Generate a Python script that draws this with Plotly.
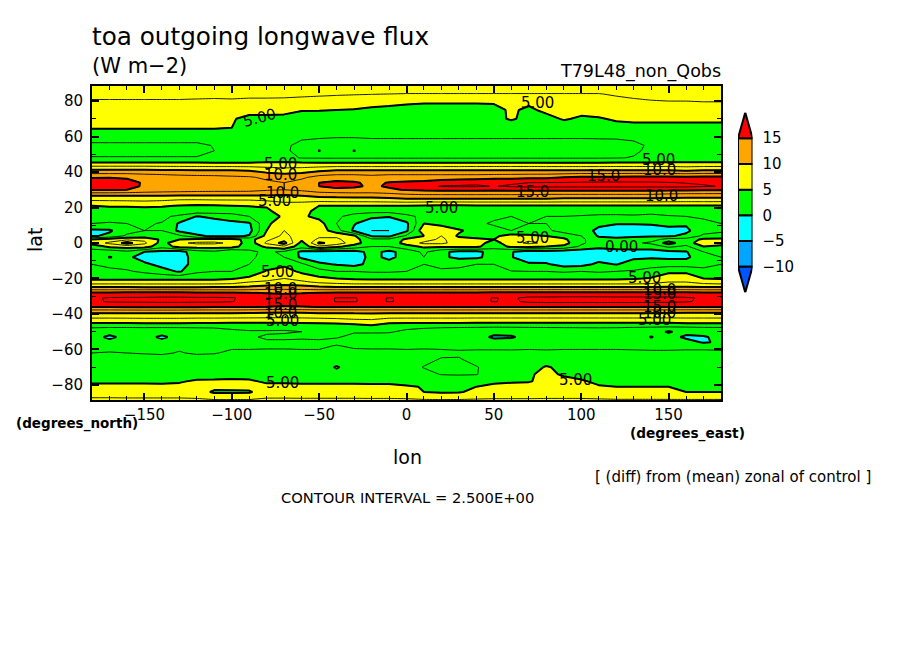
import plotly.graph_objects as go

lons = list(range(-180, 190, 10))
lats = [89,84,80,75,70,65,60,55,52,48,45,41,37,34,32,30,27,25,21,18,15,11,7,4,2,0,-2,-5,-8,-12,-16,-20,-22,-25,-28,-31,-33,-36,-39,-45,-47,-50,-53,-56,-58,-62,-66,-70,-74,-78,-81,-84,-89]
flux = [
[9,9,9,9,9,9,9,9,9,9, 9,9,9,9.5,9.5,9.5,9.5,9.5,9.5, 9.5,9.5,9.5,9.5,9.5,9.5,9.5,9.5,9.5, 9.5,9.5,9,9,9,9,9,9,9],
[8.2,8.2,8.2,8.2,8.2,8.2,8.2,8.2,8.2,8.2, 8.2,8.1,8,7.9,7.8,7.7,7.6,7.5,7.4, 7.4,7.4,7.4,7.4,7.4,7.4,7.4,7.4,7.4, 7.4,7.4,7.8,8,8.2,8.3,8.4,8.5,8.5],
[7.3,7.3,7.3,7.3,7.3,7.3,7.2,7.1,7.2,7, 7,7,6.8,6.6,6.3,6,5.7,5.5,5.3, 5.3,5.3,5.3,5.3,5.3,5.8,5.5,5.5,5.7, 6,6.2,6.8,7.2,7.4,7.5,7.5,7.6,7.6],
[6.5,6.5,6.5,6.5,6.5,6.5,6.5,6.5,6.2,5.8, 5.8,5.5,5.1,5.1,5,4.9,4.7,4.6,4.5, 4.2,4.2,4.2,4.2,4.4,5.3,4.6,5.5,5.5, 5.6,6,6.2,6.3,6.4,6.4,6.4,6.4,6.4],
[5.8,5.8,5.8,5.8,5.8,5.7,5.7,5.5,5.2,4.4, 4.4,4.5,4.2,4,3.9,3.8,3.8,3.7,3.7, 3.6,3.6,3.6,3.6,4.5,5.2,4.5,4.3,5.2, 4.7,4.8,5.3,5.5,5.5,5.5,5.5,5.5,5.5],
[5.2,5.2,5.2,5.2,5.2,5.2,5.2,5.2,5,3.9, 3.8,3.7,3.6,3.5,3.5,3.5,3.4,3.4,3.4, 3.4,3.4,3.4,3.4,3.6,4,4,4.5,3.9, 3.9,4,4.2,4.3,4.3,4.3,4.3,4.3,4.3],
[3.4,3.4,3.4,3.4,3.4,3.4,3.4,3.4,3.3,3.2, 3,2.9,2.7,2.7,2.6,2.6,2.7,2.7,2.7, 2.7,2.7,2.7,2.7,2.7,2.7,2.7,2.7,2.7, 2.7,2.7,2.7,2.8,2.9,2.9,2.9,2.9,2.9],
[2.1,2.1,2.1,2.1,2.1,2.1,2.1,2.6,2.9,2.9, 2.8,2.7,2.2,1.8,1.8,1.8,1.8,1.8,1.8, 1.8,1.8,1.8,1.8,1.8,1.8,1.8,1.8,1.8, 1.8,1.9,2,2.2,2.7,2.8,2.8,2.8,2.8],
[2,2,2,2,2,2,2,2.5,2.9,2.9, 2.8,2.7,2.1,-0.1,1.5,-0.1,1.5,1.5,1.5, 1.5,1.5,1.5,1.5,1.5,1.5,1.5,1.5,1.5, 1.6,1.7,1.8,2.2,2.9,3,3,3,3],
[2.6,2.6,2.6,2.6,2.6,2.6,2.6,2.8,3,3, 3,3,2.4,2.3,2.3,2.3,2.3,2.3,2.3, 2.3,2.3,2.3,2.3,2.3,2.3,2.3,2.3,2.3, 2.3,2.3,2.4,2.6,3.2,3.3,3.3,3.3,3.3],
[5.3,5.3,5.3,5.3,5.3,5.3,5.3,5.2,5.2,5.2, 5.4,5.5,5.3,5.2,5.2,5.2,5.2,5.2,5.2, 5.2,5.2,5.2,5.3,5.3,5.3,5.3,5.2,5.2, 5.2,5.2,5.3,5.3,5.3,5.4,5.3,5.3,5.3],
[10.4,10.4,10.4,10.4,10.2,10.1,10,10,10,9.8, 9,8.5,8.8,9.5,10,10,10,10,10, 10,10,10,10,10,10,10,10,10, 10,10,10,10,10,10,9.6,10,10],
[14.8,14.9,14.8,14.2,14,13.6,13.4,13.3,13,12.8, 12,11.5,12,13.5,14,14,13.5,14,14, 14,14,14,14,14.2,14.3,14.5,14.5,15, 15.5,15.5,15.5,15.6,15.6,15.6,15.6,15.6,15.6],
[16.5,16.5,15.6,14.8,14.5,14.5,14.5,14.2,14,13.8, 13,12.5,13.5,15,15.5,15.2,14.6,15.1,15.3, 15.5,16,16.5,17,17.2,17.2,17.5,17.6,17.6, 17.7,17.8,17.8,17.8,17.8,17.6,17.4,17.2,17.2],
[16,16,15.5,14.8,14.5,14.5,14.5,14.3,14.1,14, 13,12.5,13.5,15,15.8,15.4,14.6,15.3,15.8, 16.5,17.7,17.8,17.8,17.4,17.8,18,18,18, 18,18,18,18,18,18,18,17.7,17.4],
[15.3,15.3,15,14.4,14,13.8,13.6,13.5,13.5,13.4, 12.8,12.5,13,14,14.3,14.3,14.2,14.6,15.2, 15.5,15.6,15.6,15.6,15.5,15.6,15.6,15.6,15.6, 15.6,15.6,15.6,15.6,15.6,15.6,15.5,15.4,15.3],
[10.4,10.4,10.4,10.3,10.3,10.2,10.2,10.2,10.2,10.2, 10.2,10,10.2,10.8,11,11.2,11.2,11.5,12, 12.2,12.2,12.2,12.2,12.2,12.2,12.2,12,12, 12,12,12,12,12,11.6,11.4,11.4,11.4],
[8.4,8.4,8.5,8.6,8.4,8,8,8.1,8.1,8.1, 8.5,8.8,9,9.2,9.4,9.4,9.5,9.7,10, 10,10,10,10,10,10,10,10,9.8, 9.8,9.8,9.8,9.8,9.8,9.6,9.5,9.5,9.5],
[5,5.2,5.2,5.4,5.2,4.9,4.7,4.8,5,5.1, 5.2,6.3,6,5,5,5,5,5,5, 4.8,4.7,4.7,4.8,4.8,4.8,4.8,4.8,4.8, 4.8,4.8,4.8,4.8,4.8,4.8,4.8,4.8,4.8],
[4,4,4,4,4,4.2,4,4,4,4.2, 4.6,6,5.8,4.3,3.8,3.6,3.4,3.4,3.5, 3.6,3.6,3.5,3.5,3.4,3.4,3.4,3.5,3.6, 3.6,3.6,3.5,3.4,3.2,3.6,3.6,3.5,3.5],
[3,3,3,3,3,2,-0.1,0.5,1,2.5, 3.5,5.5,5.5,4.2,3,1.5,0.5,0.2,2, 3,3,3,3,2.8,2.5,3,2.5,2.5, 2.3,2,2,2.2,2,2.3,2.5,2.8,3],
[2.5,2.4,2.5,2.7,2.4,-0.3,-1.2,-1,-0.5,-0.3, 4.5,6.5,7,6,2.5,0.2,-1.5,-2,-0.5, 5,4.5,2.5,2.8,2.3,2.2,2.5,2.5,2, 1,0.5,0.2,0.2,0.2,0.4,0.3,2,2.5],
[-0.5,-0.3,1.5,2.5,2.5,-0.6,-1.5,-1.5,-1.5,-0.9, 5,7.5,7,6.5,3.5,-0.5,-2.5,-2.5,-0.5, 7,6,5.5,3.5,3,2.5,3,3,1.5, 1,-0.5,-1.5,-1.5,-1,-0.5,-0.5,1.5,2],
[-0.3,0.5,3,3.5,3,3,0.5,-0.5,-0.5,0.2, 6,8,6.5,7,7,5.5,-0.2,-0.5,3, 5,7.5,4.5,4,4.5,6,5.5,5,4, 2.5,-0.3,-0.5,-0.5,-0.3,-0.3,0.5,3,3.5],
[5,6,7,7,4.5,5,5.5,6,6,4, 7,9,5.5,8,8,6,3,3,5.5, 6.5,8,6,5.5,5,6,7,6,5.5, 3,1,0.5,1,1.5,3.5,3.5,5.5,5.5],
[6,8,11,8,4,7,8,8,7,3.5, 8,11,4,10.5,9,6,3.5,3.5,6, 8,8,6.5,6,4,6.5,8,7,6, 3,1,1,2,3,6,3.5,7,6],
[3.5,5.5,6,6,3.5,6,6,6,6,3.5, 5.5,7,3.5,7,5.5,4,2.5,2.5,4, 5.5,5.5,5.5,5.5,3.5,5.5,5.5,5,4.5, 2,0.5,0.5,1,1,3,2,5,4.5],
[1.5,1,2,0,-0.8,-1,1.5,2,0,2, 3,2,-0.5,-1,-1,-1,0.8,-0.6,1, 3,0.5,-0.6,-0.6,1,0.2,-1.5,-1,-1.5, -1.5,-1,-0.5,-0.8,-0.8,-0.5,-0.2,2.5,3],
[1.5,-0.1,0.6,-1.2,-1.5,-1.5,1.5,2,1,2.2, 3,2.5,-0.5,-1.5,-1.5,-1.5,0.8,-0.6,1, 2.5,0.5,-0.6,-0.5,1,0.2,-2,-1.5,-1.5, -2,-1,-0.3,-0.3,-0.3,-0.5,-0.5,1.5,2.5],
[2.5,2,1.5,0.5,-0.8,-1.5,1.5,2,2,2.5, 4,4.5,3,0.5,-0.2,-0.8,0.8,1,2, 2.5,2,2.2,2.5,2.5,0.8,0.5,0.3,-1, -0.8,0.5,-0.1,0.8,1.5,1.5,1.5,2,2.5],
[3,3,2.8,2,1,-0.3,2,2.5,2.5,3.5, 5.2,6,4.5,3.5,2.5,2.5,2.2,2.2,2.5, 2.8,2.8,2.8,2.8,2.8,2.6,2.5,2.5,2.2, 2.5,2.2,2.5,2.8,3.5,4.5,4.5,3,3],
[4.5,4.5,4.5,4.5,4.5,4.5,4.5,4.5,4.8,5.5, 6.5,7.5,6.5,5.5,5,4.7,4.6,4.6,4.6, 4.6,4.6,4.6,4.6,4.6,4.6,4.6,4.6,4.6, 4.6,4.6,4.6,4.8,5.2,6.5,6.5,5,4.8],
[6,6,6,6,6,6,6,6,6.3,7.5, 8,8.5,8,7,6.5,6,6,6,6, 6,6,6,6,6,6,6,6,6, 6,6,6,6,6.4,7.5,7.5,6.4,6],
[10.2,10.2,10.2,10.1,10.1,10.1,10.1,10.2,10.2,10.5, 11,11.2,11,10.5,10.3,10.3,10.3,10.2,10.2, 10.2,10.2,10.2,10.2,10.2,10.2,10.2,10.2,10.2, 10.2,10.2,10.2,10.2,10.2,10.3,10.3,10.2,10.2],
[15.2,15.2,15.3,15.3,15.4,15.3,15.2,15.2,15.1,15, 14.8,14.6,14.8,15,15.2,15.2,15.2,15.2,15.2, 15.2,15.2,15.2,15.2,15.3,15.3,15.3,15.4,15.4, 15.4,15.4,15.4,15.4,15.4,15.4,15.3,15.2,15.2],
[17.2,17.7,17.8,17.8,17.9,17.9,17.8,17.8,17.7,16.8, 16.5,16.3,16.4,16.8,17.6,17.6,17,17.6,17.2, 17,17,17,17,17.6,17.2,18,18,18.1, 18.1,18.1,18,18,18,18,17.8,17.2,17],
[17.1,17.7,17.8,17.8,17.9,17.9,17.8,17.8,17.6,16.7, 16.4,16.2,16.3,16.7,17.6,17.6,17,17.6,17.2, 17,17,17,17,17.6,17.1,17.9,18,18, 18,18,18,18,18,17.9,17.7,17.1,17],
[15.2,15.2,15.3,15.4,15.4,15.4,15.3,15.2,15.2,15.1, 15,14.8,14.9,15.1,15.2,15.2,15.2,15.2,15.2, 15.2,15.2,15.2,15.2,15.2,15.2,15.2,15.2,15.2, 15.2,15.2,15.2,15.2,15.2,15.2,15.1,15.1,15.1],
[10.5,10.5,10.6,10.6,10.6,10.6,10.5,10.5,10.5,10.4, 10.3,10.2,10.3,10.5,10.5,10.5,10.5,10.5,10.5, 10.5,10.5,10.5,10.5,10.5,10.5,10.5,10.5,10.5, 10.5,10.5,10.5,10.5,10.5,10.4,10.3,10.3,10.3],
[5.1,5.1,5.1,5.2,5.2,5.2,5.1,5.1,5,5, 5,5,5.1,5.2,5.5,6,6.2,5.2,5.1, 5.1,5.1,5.1,5,5,5,5,5,5, 5,5,5,5,5,5,5.2,5.2,5.2],
[2.9,2.9,2.9,2.9,2.9,2.9,2.9,2.9,2.9,2.9, 2.9,2.8,2.9,2.9,3.2,3.6,4.5,3.2,2.8, 2.8,2.8,2.8,2.8,2.8,2.8,2.8,2.8,2.8, 2.8,2.8,2.8,2.8,2.8,2.8,2.8,2.8,2.8],
[1.4,1,1,1.2,1.1,1.2,1.4,1.6,2.2,2.4, 2.4,2.4,2.5,2.6,2.8,2.6,2.6,2.6,2.3, 2,1.6,1.4,1.2,0.8,1,1.2,1.4,1.5, 1.6,1.7,1.6,1.2,0.8,-0.2,0.7,1.2,1.3],
[1,-0.5,0.8,1,-0.5,1,1.2,1.6,2.2,2.4, 2.6,2.7,2.7,2.8,2.6,2.2,2.2,2.1,1.9, 1.6,1.4,1.3,1,-0.4,-0.3,1,1.3,1.4, 1.5,1.6,1.5,1.2,-0.1,0.8,-0.4,-0.3,0.8],
[1.2,0.8,1.2,1.4,0.9,1.4,1.6,2,2.3,2.4, 2.4,2.3,2.2,2.2,2.1,2.2,1.9,1.9,1.8, 1.6,1.5,1.4,1.3,1,1.2,1.4,1.6,1.6, 1.7,1.7,1.6,1.4,1.2,1.4,0.8,-0.2,0.3],
[2,1.9,2,2,2.1,2.2,2.2,2.2,2.2,2.2, 2.2,2.2,2.2,2.2,2.6,2.2,2.2,2.2,2.2, 2.2,2.1,2,2,2,2.1,2.1,2.1,2.1, 2.1,2.1,2.1,2,2,2,2,2,2],
[2.5,2.6,2.5,2.4,2.3,2.6,2.3,2.4,2.8,2.8, 2.9,2.9,2.8,2.8,2.9,3,2.9,2.9,2.8, 2.9,2.9,2.8,2.9,2.9,2.8,2.9,2.8,2.9, 2.9,2.9,2.9,2.9,2.8,2.8,2.9,2.9,2.8],
[3.2,3.2,3.2,3.2,3.2,3.2,3.3,3.3,3.3,3.3, 3.3,3.3,3.3,3.3,3.3,3.3,3.3,3.3,3.3, 3,2.3,2.3,3,3.3,3.3,3.4,3.5,3.5, 3.5,3.5,3.5,3.5,3.5,3.5,3.5,3.5,3.5],
[3.2,3.2,3.2,3.2,3.2,3.3,3.3,3.3,3.2,3.3, 3.3,3.4,3.4,3.4,5.3,3.4,3.4,3.4,3.4, 2.4,2.2,2.2,2.4,3.2,3.3,3.6,5.3,4.2, 3.6,3.5,3.5,3.5,3.5,3.5,3.5,3.5,3.5],
[3.8,3.8,3.8,3.8,3.8,3.9,4,4.2,4.2,4.2, 4,4,4,3.9,3.9,3.9,3.9,3.9,3.8, 3.1,2.4,2.3,2.4,3.6,3.8,4.8,5.4,4.8, 4.2,4,3.9,3.9,3.9,3.9,3.9,3.9,3.9],
[4.6,4.6,4.6,4.6,4.6,4.8,5.3,5.3,5.4,5.3, 4.7,4.7,4.7,4.7,4.7,4.7,4.6,4.6,4.3, 4,4,4,4.1,4.6,4.8,4.9,5.4,5.5, 5.3,4.5,4.3,4.3,4.3,4.3,4.3,4.3,4.3],
[5.6,5.6,5.6,5.6,5.5,5.5,5.6,5.7,5.8,5.8, 5.5,5.5,5.4,5.4,5.4,5.4,5.4,5.4,5.2, 4.9,4.8,4.8,5,5.5,5.6,5.6,5.8,6, 5.9,5.2,5,5,5,5,5,5,5],
[6.6,6.6,6.5,6.5,6.5,6.5,6.2,4.6,4.6,4.7, 6.4,6.4,6.3,6.3,6.3,6.3,6.2,6.2,6, 5,4.7,4.8,5.6,6,6,6,6.2,6.2, 6.2,5.8,5.2,5.2,5.2,5.1,5,5,5],
[8,8,8,8,8,8,8,8,8,8, 8,8,8,8,8,8,8,8,8, 8,8,8,8,8,8,8,8,8, 8,8,8,8,8,8,8,8,8],
]

levels = [-10, -5, 0, 5, 10, 15]
colors = ["#0055ff", "#00a5ff", "#00ffff", "#00ff00", "#ffff00", "#ffa500", "#ff0000"]
zlo, zhi = -15, 20
n = len(colors)
scale = []
for i, c in enumerate(colors):
    scale += [[i / n, c], [(i + 1) / n, c]]
black = [[0, "#000"], [1, "#000"]]
FONT = "DejaVu Sans"

fig = go.Figure()
fig.add_trace(go.Contour(x=lons, y=lats, z=flux, zmin=zlo, zmax=zhi, colorscale=scale, showscale=False,
                         autocontour=False, contours=dict(start=-10, end=15, size=5, coloring="fill", showlines=False),
                         line=dict(width=0), hoverinfo="skip"))
fig.add_trace(go.Contour(x=lons, y=lats, z=flux, colorscale=black, showscale=False, autocontour=False,
                         contours=dict(start=-10, end=17.5, size=2.5, coloring="lines"),
                         line=dict(width=0.9, color="#000", smoothing=0), hoverinfo="skip"))
fig.add_trace(go.Contour(x=lons, y=lats, z=flux, colorscale=black, showscale=False, autocontour=False,
                         contours=dict(start=-10, end=15, size=5, coloring="lines"),
                         line=dict(width=2, color="#000", smoothing=0), hoverinfo="skip"))

# colour key on its own small axes
for lo, hi, c in zip(levels[:-1], levels[1:], colors[1:-1]):
    fig.add_trace(go.Bar(x=[0.5], y=[hi - lo], base=[lo], width=[1], marker=dict(color=c, line=dict(color="#000", width=2)),
                         xaxis="x2", yaxis="y2", showlegend=False, hoverinfo="skip"))
fig.add_trace(go.Scatter(x=[0, 0.5, 1, 0], y=[15, 20, 15, 15], fill="toself", fillcolor=colors[-1], mode="lines",
                         line=dict(color="#000", width=2), xaxis="x2", yaxis="y2", showlegend=False, hoverinfo="skip"))
fig.add_trace(go.Scatter(x=[0, 0.5, 1, 0], y=[-10, -15, -10, -10], fill="toself", fillcolor=colors[0], mode="lines",
                         line=dict(color="#000", width=2), xaxis="x2", yaxis="y2", showlegend=False, hoverinfo="skip"))

W, H = 904, 654
tick_font = dict(family=FONT, size=15, color="#000")
fig.update_layout(
    width=W, height=H, margin=dict(l=0, r=0, t=0, b=0), paper_bgcolor="#fff", plot_bgcolor="#fff",
    showlegend=False, barmode="overlay", font=dict(family=FONT, color="#000"),
    xaxis=dict(domain=[92 / W, 721 / W], range=[-180, 180], tickvals=[-150, -100, -50, 0, 50, 100, 150],
               ticks="inside", ticklen=7, tickwidth=2, tickcolor="#000", showline=True, linecolor="#000", linewidth=2,
               mirror="allticks", showgrid=False, zeroline=False, tickfont=tick_font,
               minor=dict(dtick=10, ticks="inside", ticklen=4, tickwidth=1, tickcolor="#000")),
    yaxis=dict(domain=[1 - 400 / H, 1 - 86 / H], range=[-88.5, 88.5], tickvals=[-80, -60, -40, -20, 0, 20, 40, 60, 80],
               ticks="inside", ticklen=7, tickwidth=2, tickcolor="#000", showline=True, linecolor="#000", linewidth=2,
               mirror="allticks", showgrid=False, zeroline=False, tickfont=tick_font, ticklabelstandoff=4,
               minor=dict(dtick=10, ticks="inside", ticklen=4, tickwidth=1, tickcolor="#000")),
    xaxis2=dict(domain=[738 / W, 752.5 / W], range=[0, 1], anchor="y2", visible=False, fixedrange=True),
    yaxis2=dict(domain=[1 - 292.5 / H, 1 - 112.5 / H], range=[zlo, zhi], anchor="x2", side="right", tickvals=levels,
                ticks="", showgrid=False, zeroline=False, showline=False, tickfont=tick_font, ticklabelstandoff=9),
)

def note(text, px, py, size, xanchor="left", angle=0, weight=None):
    fig.add_annotation(text=text, x=px / W, y=1 - py / H, xref="paper", yref="paper", showarrow=False,
                       xanchor=xanchor, yanchor="middle", textangle=angle, font=dict(family=FONT, size=size, color="#000", weight=weight),
                       borderpad=0, borderwidth=0)

note("toa outgoing longwave flux", 92, 37, 24.7)
note("(W m\u22122)", 92, 66, 21)
note("T79L48_non_Qobs", 721, 71, 17.5, xanchor="right")
note("lat", 35, 240, 19, xanchor="center", angle=-90)
note("lon", 407, 457, 19, xanchor="center")
note("(degrees_north)", 16, 423, 13.5, weight=600)
note("(degrees_east)", 630, 433, 13.7, weight=600)
note("[ (diff) from (mean) zonal of control ]", 595, 477, 15)
note("CONTOUR INTERVAL = 2.500E+00", 281, 497, 14.7)

label_text = ["5.00","5.00","5.00","10.0","10.0","5.00","5.00","15.0","15.0","5.00","10.0","10.0","5.00","0.00",
              "5.00","10.0","15.0","15.0","10.0","5.00","5.00","10.0","15.0","15.0","10.0","5.00","5.00","5.00"]
label_lon = [74.7,-84.4,-72.4,-72.4,-71.2,-75.8,20.3,112.5,71.9,144,145,145.7,71.9,122.8,
             -74,-72.4,-72.4,-72.4,-72.4,-70.7,136,145,145,145,145,142,-71,97]
label_lat = [78.9,70.4,44.5,38.3,28.2,23.7,19.7,37.7,28.7,46.8,41.1,26.5,2.8,-2.3,
             -16.3,-25.9,-28.7,-35,-39.4,-44,-19.7,-26.5,-28.7,-36,-39.4,-43.4,-79,-77]
for t, lo, la in zip(label_text, label_lon, label_lat):
    fig.add_annotation(text=t, x=lo, y=la, xref="x", yref="y", showarrow=False, font=dict(family=FONT, size=15, color="#000"),
                       textangle=-15 if (lo, la) == (-84.4, 70.4) else 0)

fig.write_html("out.html", post_script="document.body.style.margin='0';", config=dict(displayModeBar=False))
